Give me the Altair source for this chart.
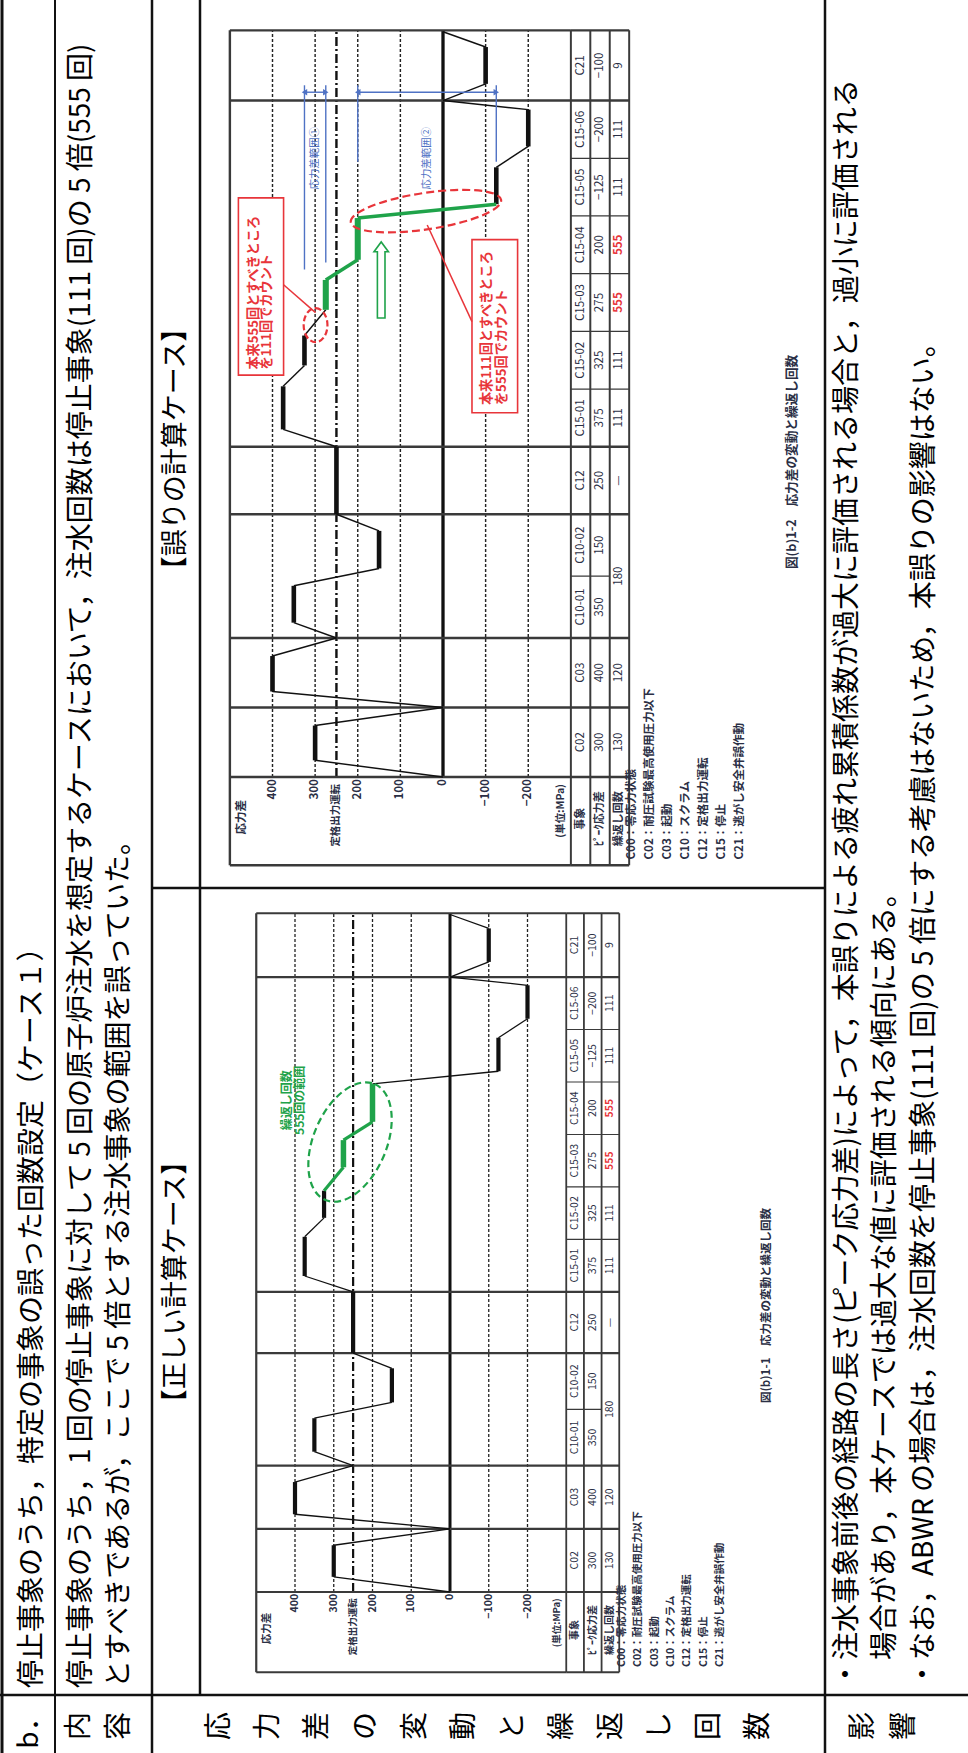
import altair as alt
import pandas as pd

W, H = 968, 1753
FONT = "Noto Sans CJK JP"

# ---------------- document table text ----------------
title_text = "停止事象のうち，特定の事象の誤った回数設定（ケース１）"
content_lines = [
    "停止事象のうち，1 回の停止事象に対して 5 回の原子炉注水を想定するケースにおいて，注水回数は停止事象(111 回)の 5 倍(555 回)",
    "とすべきであるが，ここで 5 倍とする注水事象の範囲を誤っていた。",
]
effect_lines = [
    "・注水事象前後の経路の長さ(ピーク応力差)によって，本誤りによる疲れ累積係数が過大に評価される場合と，過小に評価される",
    "場合があり，本ケースでは過大な値に評価される傾向にある。",
    "・なお，ABWR の場合は，注水回数を停止事象(111 回)の 5 倍にする考慮はないため，本誤りの影響はない。",
]
label_item = "b．"
label_content = "内容"
label_chart = "応力差の変動と繰返し回数"
label_effect = "影響"
case_titles = ["【誤りの計算ケース】", "【正しい計算ケース】"]

# ---------------- stress history ----------------
events = ["C02", "C03", "C10-01", "C10-02", "C12", "C15-01", "C15-02",
          "C15-03", "C15-04", "C15-05", "C15-06", "C21"]
ev_start = [0, 1, 2, 2.89, 3.78, 4.75, 5.58, 6.41, 7.24, 8.07, 8.9, 9.73]
ev_end = [1, 2, 2.89, 3.78, 4.75, 5.58, 6.41, 7.24, 8.07, 8.9, 9.73, 10.74]
peak_stress = [300, 400, 350, 150, 250, 375, 325, 275, 200, -125, -200, -100]
cycles = ["130", "120", "180", None, "—", "111", "111", "555", "555", "111", "111", "9"]
highlight_cycles = ["555"]

path_t = [0, 0.24, 0.74, 1.0, 1.23, 1.74, 2.0, 2.22, 2.75, 3.0, 3.54, 3.78, 4.75,
          5.0, 5.62, 5.92, 6.35, 6.72, 7.15, 7.44, 8.04, 8.24, 8.77, 9.07, 9.6,
          9.73, 9.97, 10.5, 10.72]
path_s = [0, 300, 300, 0, 400, 400, 250, 350, 350, 150, 150, 250, 250,
          375, 375, 325, 325, 275, 275, 200, 200, -125, -125, -200, -200,
          0, -100, -100, 0]
green_wrong = (17, 20)   # segments counted 555 times in the wrong case
green_right = (16, 19)   # segments counted 555 times in the correct case

grid_stress = [400, 300, 200, 100, -100, -200]
rated_stress = 250
tick_stress = [400, 300, 200, 100, 0, -100, -200]
legend_lines = ["C00：零応力状態", "C02：耐圧試験最高使用圧力以下", "C03：起動",
                "C10：スクラム", "C12：定格出力運転", "C15：停止", "C21：逃がし安全弁誤作動"]
captions = ["図(b)1-2　応力差の変動と繰返し回数", "図(b)1-1　応力差の変動と繰返し回数"]
table_headers = ["事象", "ﾋﾟｰｸ応力差", "繰返し回数"]

# stress ranges marked in the wrong case: (upper, lower, label)
range_marks = [(325, 275, "応力差範囲①"), (200, -125, "応力差範囲②")]

# ---------------- styling / layout ----------------
BLACK = "#111111"
LINE = "#3a3a3a"
GREEN = "#1fa34a"
RED = "#e8353a"
BLUE = "#4f72c4"
TXT = "#2b2f45"

S_LO, S_HI = -300, 500
T_LO, T_HI = -1.27, ev_end[-1]
PX_S, PX_T, TAB_W = 0.3875, 63.2, 53

CASES = [
    dict(name="wrong", x0=443, y0=777, k=1.1, green=green_wrong),
    dict(name="right", x0=450, y0=1592, k=1.0, green=green_right),
]


def sc(domain, rng):
    return alt.Scale(domain=list(domain), range=list(rng), nice=False, zero=False)


CX = sc([0, W], [0, W])
CY = sc([0, H], [0, H])


def seg_layer(df, xs, ys, **mk):
    return alt.Chart(df).mark_rule(**mk).encode(
        x=alt.X("x:Q", scale=xs, axis=None), x2=alt.X2("x2:Q"),
        y=alt.Y("y:Q", scale=ys, axis=None), y2=alt.Y2("y2:Q"))


def text_layer(df, xs, ys, **mk):
    mk.setdefault("font", FONT)
    return alt.Chart(df).mark_text(**mk).encode(
        x=alt.X("x:Q", scale=xs, axis=None),
        y=alt.Y("y:Q", scale=ys, axis=None),
        text=alt.Text("t:N"))


def shape_layer(df, xs, ys, **mk):
    return alt.Chart(df).mark_point(opacity=1, **mk).encode(
        x=alt.X("x:Q", scale=xs, axis=None),
        y=alt.Y("y:Q", scale=ys, axis=None))


layers = []

# ---- outer table grid ----
frame = pd.DataFrame([
    dict(x=2, y=0, x2=2, y2=H, w=3),
    dict(x=55, y=0, x2=55, y2=H, w=2),
    dict(x=152, y=0, x2=152, y2=H, w=2.5),
    dict(x=200, y=0, x2=200, y2=1695, w=2.5),
    dict(x=825, y=0, x2=825, y2=H, w=2.5),
    dict(x=0, y=1695, x2=W, y2=1695, w=2.5),
    dict(x=152, y=888, x2=825, y2=888, w=2.5),
])
layers.append(alt.Chart(frame).mark_rule(color=BLACK).encode(
    x=alt.X("x:Q", scale=CX, axis=None), x2="x2:Q",
    y=alt.Y("y:Q", scale=CY, axis=None), y2="y2:Q",
    strokeWidth=alt.StrokeWidth("w:Q", scale=None)))

# ---- document text (rotated, reading upwards) ----
body = pd.DataFrame(
    [dict(t=title_text, x=33, y=1688)]
    + [dict(t=s, x=x, y=1688) for s, x in zip(content_lines, [82, 120])]
    + [dict(t=effect_lines[0], x=848, y=1688),
       dict(t=effect_lines[1], x=886, y=1660),
       dict(t=effect_lines[2], x=925, y=1688)])
layers.append(text_layer(body, CX, CY, angle=270, align="left", baseline="middle",
                         fontSize=28, color="#000"))

titles = pd.DataFrame([dict(t=case_titles[0], x=176, y=449),
                       dict(t=case_titles[1], x=176, y=1282)])
layers.append(text_layer(titles, CX, CY, angle=270, align="center", baseline="middle",
                         fontSize=27, color="#000"))

row_labels = ([dict(t=label_item, x=30)]
              + [dict(t=c, x=x) for c, x in zip(label_content, [80, 120])]
              + [dict(t=c, x=220 + 49 * i) for i, c in enumerate(label_chart)]
              + [dict(t=c, x=x) for c, x in zip(label_effect, [864, 905])])
rl = pd.DataFrame(row_labels)
rl["y"] = 1726
layers.append(text_layer(rl, CX, CY, angle=270, align="center", baseline="middle",
                         fontSize=28, color="#000"))


# ---- the two stress-history charts ----
def build_case(case, idx):
    k, x0, y0 = case["k"], case["x0"], case["y0"]
    s_left = x0 - S_HI * PX_S * k
    s_right = x0 - S_LO * PX_S * k
    sx = sc([S_LO, S_HI], [s_right, s_left])
    ty = sc([T_LO, T_HI], [y0 - T_LO * PX_T * k, y0 - T_HI * PX_T * k])
    cx = sc([0, 3], [s_right, s_right + TAB_W * k])
    out = []

    groups = [e.split("-")[0] for e in events]
    major = [ev_start[i] for i in range(len(events)) if i == 0 or groups[i] != groups[i - 1]]
    frame_t = [T_LO] + major + [T_HI]
    minor = [ev_start[i] for i in range(1, len(events))
             if groups[i] == groups[i - 1] and groups[i] != "C10"]
    split = [ev_start[i] for i in range(1, len(events))
             if groups[i] == groups[i - 1] == "C10"]

    # grid lines
    out.append(seg_layer(pd.DataFrame({"x": grid_stress, "x2": grid_stress, "y": 0, "y2": T_HI}),
                         sx, ty, color="#222", strokeWidth=1.3 * k, strokeDash=[3, 2]))
    out.append(seg_layer(pd.DataFrame({"x": [rated_stress], "x2": [rated_stress], "y": [0], "y2": [T_HI]}),
                         sx, ty, color=BLACK, strokeWidth=2.2 * k, strokeDash=[9, 3, 2, 3]))
    out.append(seg_layer(pd.DataFrame({"x": [0], "x2": [0], "y": [0], "y2": [T_HI]}),
                         sx, ty, color=BLACK, strokeWidth=3 * k))

    # plot frame and event boundaries
    out.append(seg_layer(pd.DataFrame({"x": S_LO, "x2": S_HI, "y": frame_t, "y2": frame_t}),
                         sx, ty, color=LINE, strokeWidth=2.2 * k))
    out.append(seg_layer(pd.DataFrame({"x": [S_HI], "x2": [S_HI], "y": [T_LO], "y2": [T_HI]}),
                         sx, ty, color=LINE, strokeWidth=2.2 * k))

    # table under the plot
    out.append(seg_layer(pd.DataFrame({"x": [0, 1, 2, 3], "x2": [0, 1, 2, 3], "y": T_LO, "y2": T_HI}),
                         cx, ty, color=LINE, strokeWidth=1.8 * k))
    out.append(seg_layer(pd.DataFrame({"x": 0, "x2": 3, "y": frame_t, "y2": frame_t}),
                         cx, ty, color=LINE, strokeWidth=2.2 * k))
    out.append(seg_layer(pd.DataFrame({"x": 0, "x2": 3, "y": minor, "y2": minor}),
                         cx, ty, color=LINE, strokeWidth=1.1 * k))
    out.append(seg_layer(pd.DataFrame({"x": 0, "x2": 2, "y": split, "y2": split}),
                         cx, ty, color=LINE, strokeWidth=1.1 * k))

    # stress path
    lo, hi = case["green"]
    segs = pd.DataFrame({
        "x": path_s[:-1], "x2": path_s[1:], "y": path_t[:-1], "y2": path_t[1:]})
    segs["flat"] = segs["x"] == segs["x2"]
    segs["green"] = [lo <= i <= hi for i in range(len(segs))]
    for flat, green, wdt in [(False, False, 1.3), (True, False, 4.2), (False, True, 3.2), (True, True, 5.5)]:
        part = segs[(segs["flat"] == flat) & (segs["green"] == green)]
        if len(part):
            out.append(seg_layer(part, sx, ty, color=GREEN if green else BLACK,
                                 strokeWidth=wdt * k, strokeCap="butt"))

    # axis labels
    ticks = pd.DataFrame({"x": tick_stress, "y": -0.03,
                          "t": [str(v).replace("-", "−") for v in tick_stress]})
    out.append(text_layer(ticks, sx, ty, angle=270, align="right", baseline="middle",
                          fontSize=10.5 * k, fontWeight="bold", color=TXT))
    out.append(text_layer(pd.DataFrame({"x": [472], "y": [-0.33], "t": ["応力差"]}), sx, ty,
                          angle=270, align="right", baseline="middle", fontSize=10.5 * k,
                          fontWeight="bold", color=TXT))
    out.append(text_layer(pd.DataFrame({"x": [rated_stress, -276], "y": [-0.1, -0.1],
                                        "t": ["定格出力運転", "(単位:MPa)"]}), sx, ty,
                          angle=270, align="right", baseline="middle", fontSize=9.5 * k,
                          fontWeight="bold", color=TXT))

    # table contents
    mids = [(a + b) / 2 for a, b in zip(ev_start, ev_end)]
    out.append(text_layer(pd.DataFrame({"x": 0.5, "y": mids, "t": events}), cx, ty,
                          angle=270, align="center", baseline="middle", fontSize=10.5 * k, color=TXT))
    out.append(text_layer(pd.DataFrame({"x": 1.5, "y": mids,
                                        "t": [str(v).replace("-", "−") for v in peak_stress]}),
                          cx, ty, angle=270, align="center", baseline="middle",
                          fontSize=10.5 * k, color=TXT))
    cyc = []
    for i, c in enumerate(cycles):
        if c is None:
            continue
        end = ev_end[i + 1] if i + 1 < len(cycles) and cycles[i + 1] is None else ev_end[i]
        cyc.append(dict(x=2.5, y=(ev_start[i] + end) / 2, t=c, hot=c in highlight_cycles))
    cyc = pd.DataFrame(cyc)
    out.append(text_layer(cyc[~cyc["hot"]], cx, ty, angle=270, align="center",
                          baseline="middle", fontSize=10.5 * k, color=TXT))
    out.append(text_layer(cyc[cyc["hot"]], cx, ty, angle=270, align="center",
                          baseline="middle", fontSize=10.5 * k, fontWeight="bold", color=RED))
    out.append(text_layer(pd.DataFrame({"x": [0.5, 1.5, 2.5], "y": -0.6, "t": table_headers}),
                          cx, ty, angle=270, align="center", baseline="middle",
                          fontSize=10 * k, fontWeight="bold", color=TXT))

    # legend and caption
    leg = pd.DataFrame({"t": legend_lines,
                        "x": [x0 + k * (172 + 16.3 * i) for i in range(len(legend_lines))],
                        "y": y0 + k * 75})
    out.append(text_layer(leg, CX, CY, angle=270, align="left", baseline="middle",
                          fontSize=10.5 * k, fontWeight="bold", color=TXT))
    cap = pd.DataFrame({"t": [captions[idx]], "x": [x0 + k * 317], "y": [y0 - k * 189]})
    out.append(text_layer(cap, CX, CY, angle=270, align="left", baseline="middle",
                          fontSize=11.5 * k, fontWeight="bold", color=TXT))

    if case["name"] == "right":
        out.append(shape_layer(pd.DataFrame({"x": [258], "y": [7.12]}), sx, ty, filled=False,
                               shape="M 0 -1 A 0.58 1 0 1 1 0 1 A 0.58 1 0 1 1 0 -1 Z",
                               size=(2 * 63) ** 2, angle=23, stroke=GREEN,
                               strokeWidth=2.2, strokeDash=[7, 4]))
        out.append(text_layer(pd.DataFrame({"x": [421, 387], "y": 7.78,
                                            "t": ["繰返し回数", "555回の範囲"]}),
                              sx, ty, angle=270, align="center", baseline="middle",
                              fontSize=12, fontWeight="bold", color=GREEN))
    else:
        # stress-range markers: extension lines, double arrows and labels
        ext = pd.DataFrame({"x": [325, 275, 200, -125], "y": [7.3, 7.4, 8.85, 8.85]})
        ext["x2"] = ext["x"]
        ext["y2"] = 9.95
        out.append(seg_layer(ext, sx, ty, color=BLUE, strokeWidth=1.4))
        arr = pd.DataFrame({"x": [r[0] for r in range_marks], "x2": [r[1] for r in range_marks],
                            "y": 9.85, "y2": 9.85})
        out.append(seg_layer(arr, sx, ty, color=BLUE, strokeWidth=1.4))
        heads_l = pd.DataFrame({"x": [r[0] for r in range_marks], "y": 9.85})
        heads_r = pd.DataFrame({"x": [r[1] for r in range_marks], "y": 9.85})
        out.append(shape_layer(heads_l, sx, ty, shape="triangle-left", size=40, filled=True,
                               color=BLUE, strokeWidth=0))
        out.append(shape_layer(heads_r, sx, ty, shape="triangle-right", size=40, filled=True,
                               color=BLUE, strokeWidth=0))
        rlab = pd.DataFrame({"x": [(a + b) / 2 for a, b, _ in range_marks],
                             "y": 8.45, "t": [r[2] for r in range_marks]})
        out.append(text_layer(rlab, sx, ty, angle=270, align="left", baseline="middle",
                              fontSize=9.5 * k, color=BLUE))

        boxes = pd.DataFrame({"x": [374, -175], "x2": [480, -68],
                              "y": [5.78, 5.24], "y2": [8.33, 7.73]})
        out.append(alt.Chart(boxes).mark_rect(fill="white", stroke=RED, strokeWidth=1.6).encode(
            x=alt.X("x:Q", scale=sx, axis=None), x2="x2:Q",
            y=alt.Y("y:Q", scale=ty, axis=None), y2="y2:Q"))
        notes = pd.DataFrame({
            "x": [444, 412, -103, -138], "y": [5.86, 5.86, 5.35, 5.35],
            "t": ["本来555回とすべきところ", "を111回でカウント",
                  "本来111回とすべきところ", "を555回でカウント"]})
        out.append(text_layer(notes, sx, ty, angle=270, align="left", baseline="middle",
                              fontSize=12 * k, fontWeight="bold", color=RED))
        out.append(seg_layer(pd.DataFrame({"x": [374, -68], "x2": [299, 37],
                                           "y": [7.08, 6.55], "y2": [6.68, 7.94]}),
                             sx, ty, color=RED, strokeWidth=1.5))
        out.append(shape_layer(pd.DataFrame({"x": [299], "y": [6.5]}), sx, ty, filled=False,
                               shape="M 0 -1 A 0.7 1 0 1 1 0 1 A 0.7 1 0 1 1 0 -1 Z",
                               size=(2 * 17) ** 2, stroke=RED, strokeWidth=2.2,
                               strokeDash=[6, 3]))
        out.append(shape_layer(pd.DataFrame({"x": [40], "y": [8.14]}), sx, ty, filled=False,
                               shape="M -1 0 A 1 0.24 0 1 1 1 0 A 1 0.24 0 1 1 -1 0 Z",
                               size=(2 * 76) ** 2, angle=351.5, stroke=RED,
                               strokeWidth=2.2, strokeDash=[8, 4]))
        out.append(shape_layer(pd.DataFrame({"x": [145], "y": [7.15]}), sx, ty, filled=False,
                               shape="M -0.1 1 L -0.1 -0.74 L -0.19 -0.74 L 0 -1 L 0.19 -0.74 L 0.1 -0.74 L 0.1 1 Z",
                               size=(2 * 38) ** 2, stroke=GREEN, strokeWidth=1.6))
    return out


for i, case in enumerate(CASES):
    layers.extend(build_case(case, i))

chart = alt.layer(*layers).properties(
    width=W, height=H, padding=0,
    autosize=alt.AutoSizeParams(type="none"),
    background="white",
).resolve_scale(x="independent", y="independent").configure_view(stroke=None)

chart.save("out.html", embed_options={"renderer": "svg", "actions": False})
